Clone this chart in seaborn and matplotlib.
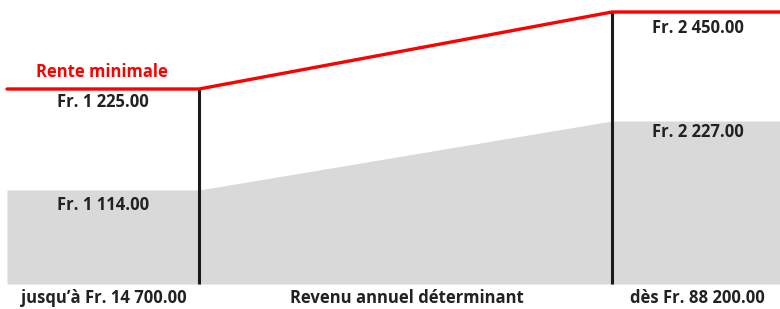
import matplotlib
matplotlib.use("Agg")
import matplotlib.pyplot as plt
import seaborn as sns
import pandas as pd

sns.set_theme(style="white")
plt.rcParams['font.family'] = ['Open Sans', 'DejaVu Sans']

# Data (chart units; schematic, not to scale)
x_points = [7, 199, 612, 780]
rente_level = [89, 89, 12, 12]          # red "Rente minimale" line
base_level = [190, 190, 121, 121]       # gray area top
breaks = [199, 612]
rente_labels = ["Fr. 1 225.00", "Fr. 2 450.00"]
base_labels = ["Fr. 1 114.00", "Fr. 2 227.00"]
income_labels = ["jusqu\u2019à Fr. 14 700.00", "Revenu annuel déterminant", "dès Fr. 88 200.00"]
series_name = "Rente minimale"

df = pd.DataFrame({"x": x_points, "rente": rente_level, "base": base_level})

fig = plt.figure(figsize=(7.8, 3.09), dpi=100)
ax = fig.add_axes([0, 0, 1, 1])

ax.fill_between(df["x"], df["base"], 284, color="#d9d9d9", linewidth=0, zorder=1)
ax.vlines(breaks[0], rente_level[1], 284, color="#1a1a1a", linewidth=2.2, zorder=3)
ax.vlines(breaks[1], rente_level[2], 284, color="#1a1a1a", linewidth=2.2, zorder=3)
sns.lineplot(data=df, x="x", y="rente", color="#ff0000", linewidth=2.4, ax=ax, zorder=4)
ax.set_xlim(0, 780)
ax.set_ylim(309, 0)
ax.axis("off")

tc = "#222222"
fs = 12
ax.text(102, 72, series_name, color="#ff0000", fontsize=fs, fontweight="bold", ha="center", va="center")
ax.text(103, 102, rente_labels[0], color=tc, fontsize=fs, fontweight="bold", ha="center", va="center")
ax.text(698, 28, rente_labels[1], color=tc, fontsize=fs, fontweight="bold", ha="center", va="center")
ax.text(103, 205, base_labels[0], color=tc, fontsize=fs, fontweight="bold", ha="center", va="center")
ax.text(698, 132, base_labels[1], color=tc, fontsize=fs, fontweight="bold", ha="center", va="center")
ax.text(104, 298, income_labels[0], color=tc, fontsize=fs, fontweight="bold", ha="center", va="center")
ax.text(407, 298, income_labels[1], color=tc, fontsize=fs, fontweight="bold", ha="center", va="center")
ax.text(697, 298, income_labels[2], color=tc, fontsize=fs, fontweight="bold", ha="center", va="center")

fig.savefig("out.png", dpi=100)
